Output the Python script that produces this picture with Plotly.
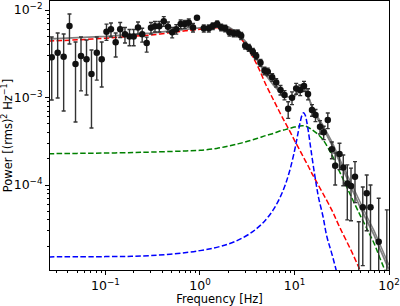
import plotly.graph_objects as go
import math

# ---------------- data ----------------
freq = [0.0270, 0.0312, 0.0361, 0.0416, 0.0482, 0.0551, 0.0630, 0.0711, 0.0809, 0.0912,
        0.1025, 0.1143, 0.1282, 0.1431, 0.1608, 0.1795, 0.1988, 0.2208, 0.2446, 0.2729,
        0.3030, 0.3340, 0.3709, 0.4140, 0.4584, 0.5079, 0.5611, 0.6250, 0.6902, 0.7608,
        0.8433, 0.9295, 1.097, 1.239, 1.366, 1.521, 1.675, 1.848, 2.052, 2.278,
        2.512, 2.729, 3.008, 3.283, 3.622, 3.933, 4.366, 4.815, 5.216, 5.803,
        6.401, 7.109, 7.840, 8.576, 9.413, 10.42, 11.49, 12.61, 13.90, 15.32,
        16.68, 18.62, 20.37, 22.51, 24.87, 26.96, 29.93, 32.83, 36.20, 39.63,
        43.67, 47.89, 52.81, 58.08, 63.73, 77.8, 94.8]
power = [2.88e-3, 3.25e-3, 2.92e-3, 6.56e-3, 2.42e-3, 2.98e-3, 2.73e-3, 1.86e-3, 3.25e-3, 2.73e-3,
         5.65e-3, 6.02e-3, 4.28e-3, 6.02e-3, 5.28e-3, 4.98e-3, 4.98e-3, 6.31e-3, 5.28e-3, 4.20e-3,
         6.26e-3, 6.52e-3, 6.52e-3, 7.45e-3, 6.44e-3, 5.56e-3, 6.02e-3, 6.92e-3, 6.92e-3, 7.16e-3,
         6.31e-3, 8.15e-3, 6.18e-3, 6.18e-3, 6.56e-3, 6.92e-3, 6.34e-3, 6.18e-3, 5.56e-3, 5.42e-3,
         5.42e-3, 5.08e-3, 3.91e-3, 3.71e-3, 3.34e-3, 2.98e-3, 2.50e-3, 2.02e-3, 1.97e-3, 1.70e-3,
         1.48e-3, 1.22e-3, 1.07e-3, 7.44e-4, 9.96e-4, 1.27e-3, 1.22e-3, 1.35e-3, 1.10e-3, 7.20e-4,
         6.31e-4, 4.64e-4, 4.00e-4, 5.53e-4, 2.56e-4, 1.66e-4, 2.26e-4, 1.59e-4, 1.04e-4, 9.75e-5,
         1.24e-4, 6.0e-6, 5.56e-5, 8.04e-5, 5.56e-5, 2.25e-5, 5.0e-6]
power_hi = [4.91e-3, 5.46e-3, 5.32e-3, 9.0e-3, 4.31e-3, 4.91e-3, 4.54e-3, 3.49e-3, 4.91e-3, 4.31e-3,
            6.9e-3, 7.1e-3, 5.46e-3, 7.2e-3, 6.3e-3, 6.0e-3, 6.0e-3, 7.3e-3, 6.2e-3, 4.9e-3,
            7.2e-3, 7.4e-3, 7.4e-3, 8.4e-3, 7.3e-3, 6.3e-3, 6.8e-3, 7.7e-3, 7.6e-3, 7.9e-3,
            7.0e-3, 8.4e-3, 6.75e-3, 6.75e-3, 7.1e-3, 7.5e-3, 6.9e-3, 6.7e-3, 6.05e-3, 5.9e-3,
            5.9e-3, 5.55e-3, 4.25e-3, 4.05e-3, 3.64e-3, 3.25e-3, 2.73e-3, 2.22e-3, 2.17e-3, 1.87e-3,
            1.64e-3, 1.37e-3, 1.20e-3, 8.96e-4, 1.16e-3, 1.45e-3, 1.39e-3, 1.53e-3, 1.26e-3, 8.3e-4,
            7.3e-4, 5.45e-4, 4.7e-4, 6.65e-4, 3.1e-4, 2.32e-4, 3.0e-4, 2.2e-4, 1.7e-4, 1.56e-4,
            1.85e-4, 3.8e-5, 9.5e-5, 1.3e-4, 1.0e-4, 7.05e-5, 5.2e-5]
power_lo = [9.36e-4, 9.87e-4, 7.01e-4, 4.09e-3, 5.25e-4, 1.19e-3, 1.07e-3, 4.48e-4, 1.58e-3, 1.32e-3,
            4.5e-3, 4.91e-3, 2.9e-3, 4.85e-3, 4.2e-3, 3.9e-3, 3.9e-3, 5.3e-3, 4.3e-3, 3.3e-3,
            5.3e-3, 5.6e-3, 5.6e-3, 6.5e-3, 5.6e-3, 4.8e-3, 5.3e-3, 6.1e-3, 6.2e-3, 6.4e-3,
            5.6e-3, 7.9e-3, 5.6e-3, 5.6e-3, 6.0e-3, 6.35e-3, 5.8e-3, 5.65e-3, 5.05e-3, 4.95e-3,
            4.95e-3, 4.6e-3, 3.57e-3, 3.37e-3, 3.04e-3, 2.71e-3, 2.27e-3, 1.82e-3, 1.77e-3, 1.53e-3,
            1.32e-3, 1.07e-3, 0.94e-3, 5.78e-4, 8.3e-4, 1.09e-3, 1.05e-3, 1.17e-3, 0.94e-3, 6.1e-4,
            5.3e-4, 3.83e-4, 3.3e-4, 4.41e-4, 2.0e-4, 1.0e-4, 1.5e-4, 9.8e-5, 4.0e-5, 3.9e-5,
            6.3e-5, 1e-7, 1.2e-5, 3.0e-5, 1.0e-5, 1e-7, 1e-7]

# model curves
model_freq = [0.025, 0.05, 0.1, 0.2, 0.3, 0.5, 0.7, 1, 1.5, 2, 2.5, 3, 4, 5, 6, 7, 8, 9, 10,
              11, 12, 12.5, 13, 14, 15, 17, 20, 25, 30, 40, 50, 60, 70, 80, 100]
model_total = [4.67e-3, 4.81e-3, 5.01e-3, 5.28e-3, 5.43e-3, 5.79e-3, 6.04e-3, 6.29e-3, 6.55e-3, 6.40e-3,
               5.50e-3, 4.42e-3, 2.75e-3, 1.80e-3, 1.38e-3, 1.16e-3, 1.04e-3, 1.00e-3, 1.03e-3,
               1.15e-3, 1.33e-3, 1.35e-3, 1.29e-3, 1.03e-3, 8.21e-4, 6.05e-4, 4.54e-4, 2.85e-4, 1.83e-4,
               9.26e-5, 5.46e-5, 3.68e-5, 2.64e-5, 1.87e-5, 1.08e-5]
model_hi_freq = [10, 12.5, 15, 17, 20, 25, 30, 40, 50, 60, 70, 80, 100]
model_hi = [1.05e-3, 1.38e-3, 8.5e-4, 6.35e-4, 4.85e-4, 3.1e-4, 2.0e-4, 1.03e-4, 6.1e-5, 4.12e-5,
            2.95e-5, 2.1e-5, 1.21e-5]

red_freq = [0.025, 0.05, 0.1, 0.2, 0.3, 0.5, 0.7, 1, 1.5, 2, 2.5, 3, 4, 5, 6, 7, 8, 9, 10,
            11, 12, 13, 14, 15, 17, 20, 25, 30, 40, 50, 60]
red_power = [4.43e-3, 4.56e-3, 4.76e-3, 5.03e-3, 5.18e-3, 5.53e-3, 5.78e-3, 6.02e-3, 6.27e-3, 6.10e-3,
             5.18e-3, 4.08e-3, 2.38e-3, 1.39e-3, 9.36e-4, 6.74e-4, 5.12e-4, 4.05e-4, 3.23e-4,
             2.67e-4, 2.24e-4, 1.9e-4, 1.64e-4, 1.41e-4, 1.1e-4, 8.0e-5, 5.1e-5, 3.31e-5, 1.76e-5,
             1.04e-5, 7.0e-6]

green_freq = [0.025, 0.05, 0.1, 0.2, 0.3, 0.5, 0.7, 1, 1.5, 2, 2.5, 3, 4, 5, 6, 7, 8, 9, 10,
              11, 12, 12.5, 13, 14, 15, 17, 20, 25, 30, 40, 50, 60, 70, 80, 100]
green_power = [2.28e-4, 2.30e-4, 2.32e-4, 2.35e-4, 2.38e-4, 2.42e-4, 2.45e-4, 2.49e-4, 2.62e-4, 2.79e-4,
               2.95e-4, 3.1e-4, 3.4e-4, 3.68e-4, 3.9e-4, 4.14e-4, 4.3e-4, 4.45e-4, 4.6e-4,
               4.7e-4, 4.75e-4, 4.75e-4, 4.72e-4, 4.54e-4, 4.35e-4, 3.94e-4, 3.3e-4, 2.18e-4, 1.42e-4,
               7.3e-5, 4.42e-5, 2.98e-5, 2.12e-5, 1.47e-5, 8.2e-6]

blue_freq = [0.025, 0.1, 0.3, 1, 2, 3, 4, 5, 6, 7, 8, 9, 10, 10.5, 11, 11.5, 12, 12.5,
             13, 13.5, 14, 14.5, 15, 16, 17, 18, 20, 22, 25, 30]
blue_power = [1.51e-5, 1.52e-5, 1.56e-5, 1.78e-5, 2.12e-5, 2.58e-5, 3.19e-5, 4.04e-5, 5.27e-5, 7.14e-5,
              1.01e-4, 1.525e-4, 2.45e-4, 3.18e-4, 4.13e-4, 5.25e-4, 6.27e-4, 6.7e-4,
              6.27e-4, 5.25e-4, 4.13e-4, 3.18e-4, 2.45e-4, 1.525e-4, 1.01e-4, 7.14e-5, 4.4e-5,
              2.58e-5, 1.6e-5, 7.5e-6]

x_ticks = [0.1, 1, 10, 100]
x_ticktext = ["10<sup>\u22121</sup>", "10<sup>0</sup>", "10<sup>1</sup>", "10<sup>2</sup>"]
y_ticks = [1e-4, 1e-3, 1e-2]
y_ticktext = ["10<sup>\u22124</sup>", "10<sup>\u22123</sup>", "10<sup>\u22122</sup>"]

# ---------------- figure ----------------
fig = go.Figure()
dash = "5.5px,2.4px"

fig.add_trace(go.Scatter(x=model_freq, y=model_total, mode="lines",
                         line=dict(color="#808080", width=1.8), hoverinfo="skip"))
fig.add_trace(go.Scatter(x=model_hi_freq, y=model_hi, mode="lines",
                         line=dict(color="#808080", width=1.5), hoverinfo="skip"))
fig.add_trace(go.Scatter(x=red_freq, y=red_power, mode="lines", line_shape="spline",
                         line=dict(color="#ff0000", width=1.5, dash=dash)))
fig.add_trace(go.Scatter(x=green_freq, y=green_power, mode="lines", line_shape="spline",
                         line=dict(color="#008000", width=1.5, dash=dash)))
fig.add_trace(go.Scatter(x=blue_freq, y=blue_power, mode="lines", line_shape="spline",
                         line=dict(color="#0000ff", width=1.5, dash=dash)))

err_plus = [h - p for h, p in zip(power_hi, power)]
err_minus = [p - l for p, l in zip(power, power_lo)]
fig.add_trace(go.Scatter(x=freq, y=power, mode="markers",
                         marker=dict(color="#111111", size=6.5),
                         error_y=dict(type="data", symmetric=False, array=err_plus,
                                      arrayminus=err_minus, color="#333333",
                                      thickness=1.4, width=2)))

minor_vals = [m * 10 ** k for k in range(-6, 3) for m in range(2, 10)]

axis_common = dict(type="log", showline=True, mirror=True, linecolor="black", linewidth=1,
                   ticks="outside", ticklen=4, tickwidth=1, tickcolor="black",
                   showgrid=False, zeroline=False,
                   minor=dict(tickvals=minor_vals, ticks="outside", ticklen=2, tickwidth=0.8,
                              tickcolor="black", showgrid=False),
                   tickfont=dict(family="DejaVu Sans", size=12.5, color="black"))

fig.update_layout(
    width=400, height=306,
    margin=dict(l=50, r=11, t=1, b=36),
    plot_bgcolor="white", paper_bgcolor="white",
    showlegend=False,
    font=dict(family="DejaVu Sans", size=11.5, color="black"),
    xaxis=dict(range=[-1.587, 2.0], tickvals=x_ticks, ticktext=x_ticktext,
               title=dict(text="Frequency [Hz]", standoff=1,
                          font=dict(family="DejaVu Sans", size=11.5)),
               **axis_common),
    yaxis=dict(range=[-4.971, -1.897], tickvals=y_ticks, ticktext=y_ticktext,
               title=dict(text="Power [(rms)<sup>2</sup> Hz<sup>\u22121</sup>]", standoff=3,
                          font=dict(family="DejaVu Sans", size=11.5)),
               **axis_common),
)

fig.write_html("out.html")
